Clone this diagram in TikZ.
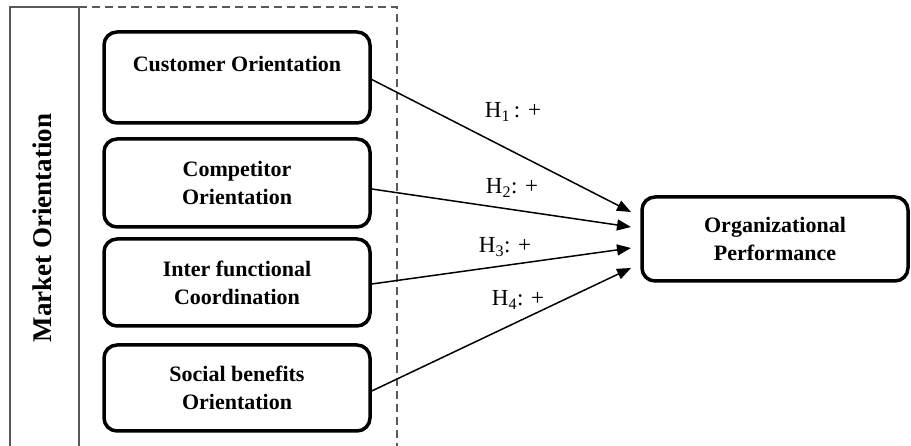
\documentclass[tikz,border=0pt]{standalone}
\usepackage{fontspec}
\setmainfont{Liberation Serif}
\usetikzlibrary{arrows.meta}
\begin{document}
\begin{tikzpicture}[x=1pt,y={(0,-1pt)},
  box/.style={draw=black, line width=3.5pt, rounded corners=13pt, minimum width=266pt,
    align=center, font=\fontsize{22}{28}\selectfont\bfseries, inner sep=0pt},
  frame/.style={draw=black!65, line width=1.3pt},
  dframe/.style={draw=black!65, line width=1.1pt, dash pattern=on 8pt off 5pt},
  link/.style={draw=black, line width=1.5pt, -{Triangle[length=14pt,width=11pt]}},
  hlabel/.style={font=\fontsize{23}{26}\selectfont, inner sep=0pt}]
\useasboundingbox (0,0) rectangle (911,446);
% frame
\coordinate (fa) at (10,446);
\coordinate (fb) at (10,7);
\coordinate (fc) at (79,7);
\coordinate (fd) at (79,446);
\coordinate (fe) at (397,7);
\coordinate (ff) at (397,446);
\draw[frame] (fa) -- (fb) -- (fc) -- (fd);
\draw[dframe] (fc) -- (fe) -- (ff);
\node[rotate=90, font=\fontsize{27}{30}\selectfont\bfseries] (mo) at (42,228) {Market Orientation};
% boxes
\node[box, minimum height=91pt] (cust) at (237,77.5) {Customer Orientation\\\mbox{}};
\node[box, minimum height=88pt] (comp) at (237,183) {Competitor\\Orientation};
\node[box, minimum height=87pt] (inter) at (237,282.5) {Inter functional\\Coordination};
\node[box, minimum height=86pt] (soc) at (237,388) {Social benefits\\Orientation};
\node[box, minimum height=84pt] (org) at (775,239) {Organizational\\Performance};
% targets
\coordinate (t1) at (631,212);
\coordinate (t2) at (631,227);
\coordinate (t3) at (631,248);
\coordinate (t4) at (631,268);
\draw[link] ([yshift=-2pt]cust.east) -- (t1);
\draw[link] ([yshift=-6pt]comp.east) -- (t2);
\draw[link] ([yshift=-1.5pt]inter.east) -- (t3);
\draw[link] ([yshift=-3pt]soc.east) -- (t4);
\node[hlabel] (h1) at (513,112) {H\textsubscript{1}\,: +};
\node[hlabel] (h2) at (512,188) {H\textsubscript{2}: +};
\node[hlabel] (h3) at (505,247) {H\textsubscript{3}: +};
\node[hlabel] (h4) at (518,300) {H\textsubscript{4}: +};
\end{tikzpicture}
\end{document}
